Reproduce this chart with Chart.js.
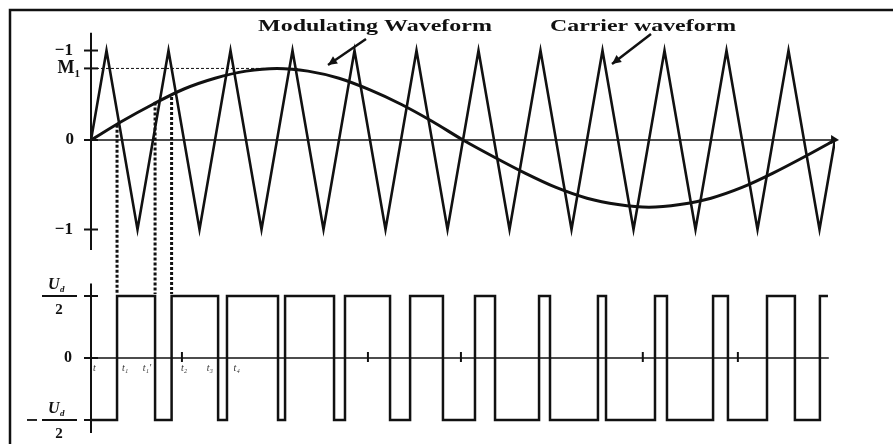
<!DOCTYPE html>
<html>
<head>
<meta charset="utf-8">
<script src="https://cdn.jsdelivr.net/npm/chart.js@4.4.0/dist/chart.umd.min.js"></script>
<style>
  html, body { margin: 0; padding: 0; background: #fff; }
  canvas { display: block; }
</style>
</head>
<body>
<canvas id="spwm" width="893" height="444"></canvas>
<script>
// x is in degrees of one modulating period (0..360)
// carrier triangle corners
const carrierX = [0, 7.5, 22.5, 37.5, 52.5, 67.5, 82.5, 97.5, 112.5, 127.5, 142.5, 157.5, 172.5,
  187.5, 202.5, 217.5, 232.5, 247.5, 262.5, 277.5, 292.5, 307.5, 322.5, 337.5, 352.5, 360];
const carrierY = [0, 1, -1, 1, -1, 1, -1, 1, -1, 1, -1, 1, -1,
  1, -1, 1, -1, 1, -1, 1, -1, 1, -1, 1, -1, 0];

// modulating waveform, read every 15 degrees
const modX = [0, 15, 30, 45, 60, 75, 90, 105, 120, 135, 150, 165, 180,
  195, 210, 225, 240, 255, 270, 285, 300, 315, 330, 345, 360];
const modY = [0, 0.21, 0.40, 0.57, 0.69, 0.77, 0.80, 0.77, 0.69, 0.56, 0.40, 0.21, 0,
  -0.19, -0.37, -0.53, -0.65, -0.72, -0.75, -0.72, -0.65, -0.53, -0.37, -0.19, 0];
const M1 = 0.8;

// PWM output: level switches to pwmY at pwmX (in units of Ud/2)
const pwmX = [0, 12.6, 31.0, 39.0, 61.5, 65.8, 90.5, 93.9, 117.6, 122.9, 144.7, 154.4, 170.3,
  185.8, 195.5, 216.8, 222.1, 245.3, 249.2, 272.9, 278.7, 301.0, 308.2, 327.1, 340.6, 352.7, 356.6];
const pwmY = [-1, 1, -1, 1, -1, 1, -1, 1, -1, 1, -1, 1, -1,
  1, -1, 1, -1, 1, -1, 1, -1, 1, -1, 1, -1, 1, 1];

// dashed projection lines from the crossings down to the output
const dropX = [12.6, 31.0, 39.0];
const dropY = [0.17, 0.42, 0.48];

// small marks and time labels on the output axis
const zeroMarks = [44, 134, 179, 267, 313];
const tLabelX = [1, 15, 25, 43.5, 56, 69];
const tLabelText = ['t', 't\u2081', 't\u2081\u2032', 't\u2082', 't\u2083', 't\u2084'];

const INK = '#111';
const SERIF = '"Liberation Serif", "DejaVu Serif", serif';

function seg(ctx, x1, y1, x2, y2) {
  ctx.beginPath(); ctx.moveTo(x1, y1); ctx.lineTo(x2, y2); ctx.stroke();
}

function arrow(ctx, x1, y1, x2, y2, size) {
  seg(ctx, x1, y1, x2, y2);
  const a = Math.atan2(y2 - y1, x2 - x1);
  ctx.beginPath();
  ctx.moveTo(x2, y2);
  ctx.lineTo(x2 - size * Math.cos(a - 0.45), y2 - size * Math.sin(a - 0.45));
  ctx.lineTo(x2 - size * Math.cos(a + 0.45), y2 - size * Math.sin(a + 0.45));
  ctx.closePath(); ctx.fill();
}

// text squeezed/stretched between two x positions (the scan is wide)
function spanText(ctx, text, left, right, y) {
  const w = ctx.measureText(text).width;
  ctx.save();
  ctx.translate(left, y);
  ctx.scale((right - left) / w, 1);
  ctx.textAlign = 'left';
  ctx.fillText(text, 0, 0);
  ctx.restore();
}

function subText(ctx, main, sub, xr, y, size) {
  ctx.font = 'bold ' + size + 'px ' + SERIF;
  const wm = ctx.measureText(main).width;
  ctx.font = 'bold ' + Math.round(size * 0.6) + 'px ' + SERIF;
  const ws = ctx.measureText(sub).width;
  const left = xr - wm - ws;
  ctx.textAlign = 'left';
  ctx.font = 'bold ' + size + 'px ' + SERIF;
  ctx.fillText(main, left, y);
  ctx.font = 'bold ' + Math.round(size * 0.6) + 'px ' + SERIF;
  ctx.fillText(sub, left + wm, y + size * 0.3);
}

function fraction(ctx, cx, barY, neg) {
  ctx.lineWidth = 1.8;
  seg(ctx, cx - 18, barY, cx + 17, barY);
  if (neg) seg(ctx, cx - 33, barY, cx - 23, barY);
  ctx.textBaseline = 'middle';
  ctx.font = 'italic bold 16px ' + SERIF;
  ctx.textAlign = 'left';
  ctx.fillText('U', cx - 12, barY - 11);
  ctx.font = 'italic bold 9px ' + SERIF;
  ctx.fillText('d', cx + 0, barY - 6);
  ctx.font = 'bold 15px ' + SERIF;
  ctx.textAlign = 'center';
  ctx.fillText('2', cx - 1, barY + 14);
}

const decor = {
  id: 'decor',
  beforeDatasetsDraw(chart) {
    const { ctx, scales: { x, yTop, yBot } } = chart;
    const x0 = x.getPixelForValue(0);
    ctx.save();
    ctx.strokeStyle = INK; ctx.fillStyle = INK;

    // frame
    ctx.lineWidth = 2.5;
    ctx.beginPath(); ctx.moveTo(10, 444); ctx.lineTo(10, 10); ctx.lineTo(893, 10); ctx.stroke();

    // top panel axes
    ctx.lineWidth = 2;
    seg(ctx, x0, yTop.getPixelForValue(1.2), x0, yTop.getPixelForValue(-1.23));
    [1, M1, 0, -1].forEach(v => {
      const py = yTop.getPixelForValue(v);
      seg(ctx, x0 - 7, py, x0 + 7, py);
    });
    ctx.lineWidth = 1.6;
    const zt = yTop.getPixelForValue(0);
    const xe = x.getPixelForValue(361);
    seg(ctx, x0, zt, xe, zt);
    ctx.beginPath(); ctx.moveTo(xe + 2, zt); ctx.lineTo(xe - 6, zt - 5); ctx.lineTo(xe - 6, zt + 4); ctx.closePath(); ctx.fill();

    // M1 dashed level
    ctx.lineWidth = 1;
    ctx.setLineDash([3, 2]);
    const pm = yTop.getPixelForValue(M1);
    seg(ctx, x0, pm, x.getPixelForValue(100), pm);
    ctx.setLineDash([]);

    // bottom panel axes
    ctx.lineWidth = 2;
    seg(ctx, x0, yBot.getPixelForValue(1.2), x0, yBot.getPixelForValue(-1.21));
    [1, 0, -1].forEach(v => {
      const py = yBot.getPixelForValue(v);
      seg(ctx, x0 - 7, py, x0 + 7, py);
    });
    ctx.lineWidth = 1.6;
    const zb = yBot.getPixelForValue(0);
    seg(ctx, x0, zb, x.getPixelForValue(357), zb);
    ctx.lineWidth = 2;
    zeroMarks.forEach(v => {
      const px = x.getPixelForValue(v);
      seg(ctx, px, zb - 6, px, zb + 4);
    });

    // projection lines
    ctx.lineWidth = 3;
    ctx.setLineDash([3, 2]);
    dropX.forEach((v, i) => {
      const px = x.getPixelForValue(v);
      seg(ctx, px, yTop.getPixelForValue(dropY[i]), px, yBot.getPixelForValue(1) - 2);
    });
    ctx.setLineDash([]);
    ctx.restore();
  },
  afterDraw(chart) {
    const { ctx, scales: { x, yTop, yBot } } = chart;
    ctx.save();
    ctx.strokeStyle = INK; ctx.fillStyle = INK;
    ctx.textBaseline = 'middle';

    // top y labels
    ctx.font = 'bold 17px ' + SERIF;
    ctx.textAlign = 'right';
    ctx.fillText('\u22121', 73, yTop.getPixelForValue(1));
    ctx.fillText('0', 74, yTop.getPixelForValue(0));
    ctx.fillText('\u22121', 73, yTop.getPixelForValue(-1));
    subText(ctx, 'M', '1', 80, yTop.getPixelForValue(M1), 18);

    // bottom y labels
    ctx.font = 'bold 16px ' + SERIF;
    ctx.textAlign = 'right';
    ctx.fillText('0', 72, yBot.getPixelForValue(0));
    fraction(ctx, 60, yBot.getPixelForValue(1), false);
    fraction(ctx, 60, yBot.getPixelForValue(-1), true);

    // time labels
    ctx.font = 'italic 10px ' + SERIF;
    ctx.fillStyle = '#333';
    ctx.textAlign = 'left';
    const zb = yBot.getPixelForValue(0);
    tLabelX.forEach((v, i) => ctx.fillText(tLabelText[i], x.getPixelForValue(v), zb + 10));
    ctx.fillStyle = INK;

    // annotations
    ctx.font = 'bold 17px ' + SERIF;
    spanText(ctx, 'Modulating Waveform', 258, 492, 27);
    spanText(ctx, 'Carrier waveform', 550, 736, 27);
    ctx.lineWidth = 2.5;
    arrow(ctx, 366, 39, 328, 65, 10);
    arrow(ctx, 651, 34, 612, 64, 10);
    ctx.restore();
  }
};

new Chart(document.getElementById('spwm'), {
  type: 'line',
  data: {
    datasets: [
      {
        label: 'Carrier waveform',
        data: carrierX.map((v, i) => ({ x: v, y: carrierY[i] })),
        yAxisID: 'yTop',
        borderColor: INK,
        borderWidth: 2.6,
        tension: 0
      },
      {
        label: 'Modulating Waveform',
        data: modX.map((v, i) => ({ x: v, y: modY[i] })),
        yAxisID: 'yTop',
        borderColor: INK,
        borderWidth: 3,
        cubicInterpolationMode: 'monotone'
      },
      {
        label: 'Output',
        data: pwmX.map((v, i) => ({ x: v, y: pwmY[i] })),
        yAxisID: 'yBot',
        borderColor: INK,
        borderWidth: 2.5,
        stepped: 'before'
      }
    ]
  },
  options: {
    responsive: false,
    animation: false,
    events: [],
    layout: { padding: { left: 91, right: 58, top: 32, bottom: 11 } },
    elements: { point: { radius: 0 } },
    plugins: { legend: { display: false }, tooltip: { enabled: false } },
    scales: {
      x: { type: 'linear', min: 0, max: 360, display: false },
      yTop: { type: 'linear', min: -3.274, max: 1.207, display: false },
      yBot: { type: 'linear', min: -1.21, max: 5.258, display: false }
    }
  },
  plugins: [decor]
});
</script>
</body>
</html>
